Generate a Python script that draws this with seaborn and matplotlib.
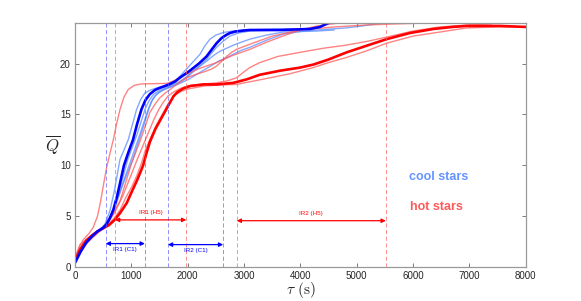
import matplotlib
matplotlib.use('Agg')
import matplotlib.pyplot as plt
import seaborn as sns

sns.set_style('white')
plt.rcParams['font.family'] = ['Liberation Sans', 'DejaVu Sans']
plt.rcParams['mathtext.fontset'] = 'cm'
plt.rcParams['lines.solid_joinstyle'] = 'round'

# cool stars (thick = main run, thin = other runs)
cool_main_t = [0, 100, 200, 300, 400, 500, 560, 620, 680, 750, 810, 870, 950, 1030, 1100, 1180, 1250, 1330, 1420, 1500, 1600, 1690, 1780, 1860, 1950, 2040, 2200, 2335, 2430, 2513, 2600, 2680, 2749, 2850, 3000, 3104, 3640, 4170, 4350, 4500]
cool_main_q = [0.4, 1.5, 2.4, 3.0, 3.5, 3.85, 4.2, 4.8, 5.6, 7.0, 8.5, 10.0, 11.3, 12.5, 14.0, 15.5, 16.4, 17.0, 17.4, 17.6, 17.8, 18.0, 18.25, 18.6, 18.95, 19.3, 20.0, 20.7, 21.4, 22.0, 22.5, 22.8, 23.0, 23.15, 23.25, 23.3, 23.3, 23.4, 23.6, 24.0]

cool_a_t = [0, 150, 300, 450, 530, 620, 700, 800, 870, 945, 1020, 1094, 1170, 1240, 1340, 1450, 1700, 1800, 1921, 2050, 2217, 2300, 2395, 2500, 2630, 2800, 3000, 3600, 4200]
cool_a_q = [0.6, 2.0, 3.1, 3.7, 4.2, 5.5, 7.5, 10.6, 11.5, 12.5, 14.0, 15.5, 16.5, 17.1, 17.4, 17.6, 17.9, 18.4, 19.1, 19.9, 20.9, 21.7, 22.4, 22.8, 23.05, 23.2, 23.3, 23.4, 23.4]
cool_b_t = [0, 150, 300, 450, 580, 720, 860, 1000, 1150, 1300, 1360, 1420, 1500, 1600, 1800, 2000, 2150, 2300, 2450, 2570, 2700, 2807, 2950, 3104, 3400, 3695, 4000, 4300, 4800, 5100, 5460]
cool_b_q = [0.5, 1.9, 3.0, 3.7, 4.3, 6.0, 8.4, 10.6, 13.0, 15.5, 16.3, 16.8, 17.2, 17.5, 17.9, 18.4, 18.9, 19.4, 19.9, 20.3, 20.6, 20.9, 21.3, 21.6, 22.3, 22.9, 23.15, 23.3, 23.5, 23.7, 24.0]
cool_c_t = [0, 150, 300, 450, 570, 700, 870, 1030, 1180, 1320, 1380, 1450, 1550, 1650, 1850, 1980, 2100, 2230, 2350, 2460, 2570, 2690, 2807, 2950, 3104, 3400, 3695, 4300, 4600]
cool_c_q = [0.5, 2.0, 3.1, 3.7, 4.3, 5.9, 8.4, 10.6, 13.2, 15.7, 16.5, 17.0, 17.35, 17.6, 18.1, 18.6, 19.2, 19.8, 20.3, 20.8, 21.2, 21.5, 21.8, 22.1, 22.4, 22.8, 23.1, 23.2, 23.3]
cool_d_t = [0, 150, 300, 450, 550, 680, 810, 940, 1100, 1250, 1320, 1400, 1500, 1600, 1720, 1850, 1980, 2100, 2220, 2335, 2420, 2513, 2630, 2749, 2900, 3104, 3600, 4100]
cool_d_q = [0.5, 2.0, 3.0, 3.7, 4.1, 5.6, 8.0, 10.6, 13.0, 15.6, 16.4, 17.0, 17.35, 17.6, 17.9, 18.2, 18.7, 19.3, 19.8, 20.4, 21.0, 21.6, 22.2, 22.7, 23.0, 23.2, 23.3, 23.4]

# hot stars
hot_main_t = [0, 100, 200, 300, 400, 500, 600, 700, 800, 920, 1000, 1100, 1160, 1210, 1270, 1330, 1430, 1540, 1620, 1690, 1750, 1820, 1921, 2050, 2280, 2513, 2807, 3050, 3281, 3640, 3991, 4230, 4500, 4820, 5200, 5530, 5940, 6360, 6700, 6950, 7540, 8000]
hot_main_q = [0.6, 1.8, 2.6, 3.1, 3.5, 3.8, 4.1, 4.6, 5.3, 6.3, 7.3, 8.5, 9.3, 10.0, 11.2, 12.3, 13.6, 14.7, 15.5, 16.2, 16.8, 17.2, 17.55, 17.8, 17.95, 17.95, 18.1, 18.45, 18.9, 19.3, 19.6, 19.9, 20.4, 21.1, 21.8, 22.4, 23.0, 23.4, 23.6, 23.7, 23.7, 23.6]

hot_a_t = [0, 80, 150, 250, 325, 400, 450, 510, 570, 680, 740, 800, 870, 945, 1050, 1180, 1630, 1750, 1921, 2200, 2513, 2800, 3104, 3400, 3640, 3991, 4300, 4700]
hot_a_q = [0.8, 2.0, 2.7, 3.3, 3.9, 5.0, 6.3, 8.2, 10.0, 12.5, 14.1, 15.5, 16.7, 17.45, 17.85, 18.0, 18.05, 18.3, 18.8, 19.5, 20.1, 20.8, 21.4, 22.1, 22.6, 23.3, 23.7, 24.0]
hot_b_t = [0, 90, 250, 384, 520, 650, 800, 1005, 1183, 1330, 1420, 1500, 1600, 1700, 1840, 1980, 2150, 2300, 2420, 2513, 2600, 2690, 2780, 2867, 3104, 3500, 3991, 4600, 5200, 5700, 6300]
hot_b_q = [0.9, 2.2, 2.9, 3.3, 4.0, 5.0, 6.5, 10.2, 12.8, 15.2, 16.0, 16.6, 17.1, 17.5, 18.1, 18.6, 18.95, 19.2, 19.45, 19.75, 20.2, 20.7, 21.1, 21.4, 21.9, 22.7, 23.3, 23.6, 23.8, 23.9, 24.0]
hot_c_t = [0, 200, 400, 550, 700, 850, 1100, 1250, 1400, 1480, 1567, 1650, 1750, 1870, 2000, 2300, 2513, 2700, 2867, 2980, 3100, 3281, 3600, 3991, 4400, 4800, 5200, 5528, 6000, 6474, 7000, 7400]
hot_c_q = [0.7, 2.3, 3.3, 4.1, 5.3, 7.0, 10.5, 12.5, 14.5, 15.4, 16.2, 16.8, 17.2, 17.55, 17.8, 18.0, 18.1, 18.3, 18.6, 19.1, 19.6, 20.1, 20.7, 21.1, 21.5, 21.8, 22.2, 22.6, 23.2, 23.6, 23.8, 23.9]
hot_d_t = [0, 200, 400, 550, 700, 800, 900, 1000, 1100, 1180, 1250, 1350, 1450, 1550, 1650, 1730, 1800, 1900, 2000, 2300, 2600, 2867, 3050, 3281, 3550, 3814, 4227, 4500, 4818, 5200, 5528, 6000, 6474, 6948, 7500, 8000]
hot_d_q = [0.6, 2.5, 3.4, 4.0, 4.8, 5.6, 6.8, 7.8, 9.0, 10.2, 11.5, 12.8, 14.0, 15.0, 16.0, 16.6, 17.0, 17.3, 17.5, 17.8, 17.9, 17.95, 18.15, 18.4, 18.7, 19.0, 19.6, 20.1, 20.6, 21.3, 22.0, 22.7, 23.1, 23.5, 23.6, 23.6]

# interval boundaries (s)
cool_bounds = [545, 1240, 1650, 2630]
hot_bounds = [710, 1975, 2870, 5515]
cool_arrow_q = [2.3, 2.2]
hot_arrow_q = [4.63, 4.55]
cool_labels = ['IR1 (C1)', 'IR2 (C1)']
hot_labels = ['IR1 (H5)', 'IR2 (H5)']

light_blue = '#5a8cff'
light_red = '#ff5a5a'

fig = plt.figure(figsize=(5.81, 3.01), dpi=100)
ax = fig.add_axes([0.129, 0.113, 0.776, 0.811])

for t, q in [(cool_a_t, cool_a_q), (cool_b_t, cool_b_q), (cool_c_t, cool_c_q), (cool_d_t, cool_d_q)]:
    sns.lineplot(x=t, y=q, ax=ax, color=light_blue, lw=1.0, alpha=0.75, sort=False, estimator=None)
for t, q in [(hot_a_t, hot_a_q), (hot_b_t, hot_b_q), (hot_c_t, hot_c_q), (hot_d_t, hot_d_q)]:
    sns.lineplot(x=t, y=q, ax=ax, color=light_red, lw=1.0, alpha=0.75, sort=False, estimator=None)
sns.lineplot(x=hot_main_t, y=hot_main_q, ax=ax, color='#ff0000', lw=1.9, sort=False, estimator=None)
sns.lineplot(x=cool_main_t, y=cool_main_q, ax=ax, color='#0000ff', lw=1.9, sort=False, estimator=None)

for b in cool_bounds:
    ax.axvline(b, color='#6060ff', lw=0.6, ls=(0, (5, 3)), alpha=0.8)
for b in hot_bounds:
    ax.axvline(b, color='#ff6060', lw=0.6, ls=(0, (5, 3)), alpha=0.8)

# interval arrows
for i in range(2):
    x0, x1 = cool_bounds[2 * i], cool_bounds[2 * i + 1]
    ax.annotate('', xy=(x0, cool_arrow_q[i]), xytext=(x1, cool_arrow_q[i]),
                arrowprops=dict(arrowstyle='<|-|>', color='#0000ff', lw=0.9, mutation_scale=6, shrinkA=0, shrinkB=0))
    ax.text((x0 + x1) / 2, cool_arrow_q[i] - 0.6, cool_labels[i], color='#0000ff', fontsize=4.5, ha='center', va='center')
    x0, x1 = hot_bounds[2 * i], hot_bounds[2 * i + 1]
    ax.annotate('', xy=(x0, hot_arrow_q[i]), xytext=(x1, hot_arrow_q[i]),
                arrowprops=dict(arrowstyle='<|-|>', color='#ff0000', lw=0.9, mutation_scale=6, shrinkA=0, shrinkB=0))
    ax.text((x0 + x1) / 2, hot_arrow_q[i] + 0.75, hot_labels[i], color='#ff0000', fontsize=4.5, ha='center', va='center')

ax.text(6455, 8.85, 'cool stars', color='#6495ff', fontsize=9, fontweight='bold', ha='center', va='center')
ax.text(6420, 5.9, 'hot stars', color='#ff5a5a', fontsize=9, fontweight='bold', ha='center', va='center')

ax.set_xlim(0, 8000)
ax.set_ylim(0, 24)
ax.set_xticks(range(0, 8001, 1000))
ax.set_yticks([0, 5, 10, 15, 20])
ax.tick_params(direction='in', length=3, width=0.6, color='0.4', labelsize=7, top=True, right=True,
               bottom=True, left=True, pad=3)
for s in ax.spines.values():
    s.set_color('0.6')
    s.set_linewidth(0.9)

ax.set_xlabel(r'$\tau\ \mathrm{(s)}$', fontsize=11)
ax.xaxis.set_label_coords(0.5, -0.095)
ax.xaxis.label.set_va('center')
ax.set_ylabel(r'$\overline{Q}$', fontsize=12, rotation=0, va='center')
ax.yaxis.set_label_coords(-0.05, 0.5)

fig.savefig('out.png', dpi=100)
